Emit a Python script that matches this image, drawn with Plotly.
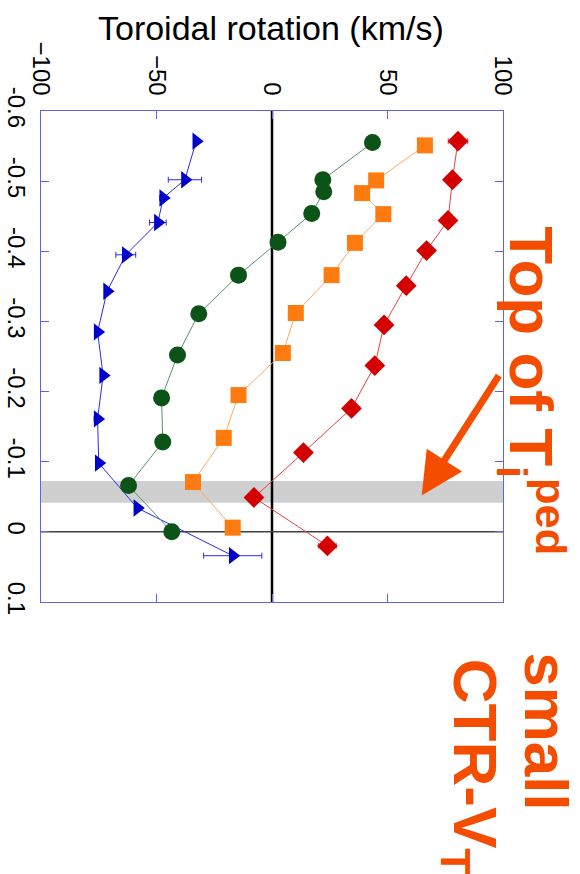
import plotly.graph_objects as go

# Position (vertical axis in the rotated view) and toroidal rotation (km/s)
pos_red = [-0.557, -0.502, -0.444, -0.401, -0.351, -0.295, -0.237, -0.176, -0.113, -0.049, 0.020]
rot_red = [80.5, 78.1, 76.2, 66.9, 58.1, 48.5, 44.5, 34.4, 13.6, -7.8, 24.0]
err_red = [4.2, 2.5, 1.5, 1.5, 1.5, 1.5, 1.5, 1.5, 1.5, 1.5, 3.8]

pos_orange = [-0.551, -0.501, -0.483, -0.453, -0.412, -0.366, -0.312, -0.255, -0.195, -0.134, -0.071, -0.006]
rot_orange = [66.2, 45.1, 39.0, 48.2, 35.9, 25.8, 10.3, 4.7, -14.5, -20.9, -34.2, -17.0]
err_orange = [0, 1.0, 0, 2.5, 0, 0, 0, 0, 0, 0, 0, 1.0]

pos_green = [-0.555, -0.502, -0.485, -0.454, -0.413, -0.366, -0.311, -0.252, -0.191, -0.128, -0.066, 0.0]
rot_green = [43.5, 22.0, 22.4, 17.2, 2.6, -14.5, -31.7, -40.9, -47.8, -47.3, -62.1, -43.4]

pos_blue = [-0.557, -0.502, -0.476, -0.441, -0.395, -0.343, -0.285, -0.223, -0.161, -0.098, -0.034, 0.034]
rot_blue = [-32.8, -37.7, -47.1, -49.4, -63.3, -71.4, -75.5, -73.1, -75.5, -75.0, -58.3, -17.0]
err_blue = [0, 7.2, 1.5, 3.6, 4.3, 0, 0, 0, 1.5, 0, 0, 12.6]

rot_ticks = [-100, -50, 0, 50, 100]
pos_ticks = [-0.6, -0.5, -0.4, -0.3, -0.2, -0.1, 0, 0.1]
pos_ticktext = ["-0.6", "-0.5", "-0.4", "-0.3", "-0.2", "-0.1", "0", "0.1"]

band_lo, band_hi = -0.0724, -0.0414

ORANGE_TXT = "#F54D00"
AXIS_BLUE = "#6060ee"
FONT = "Liberation Sans, Arial, sans-serif"

fig = go.Figure()

fig.add_trace(go.Scatter(
    x=rot_blue, y=pos_blue, mode="lines+markers",
    line=dict(color="#2a2af0", width=1),
    marker=dict(symbol="triangle-right", size=15, color="#0000cc"),
    error_x=dict(type="data", array=err_blue, color="#2a2af0", thickness=1, width=3),
    showlegend=False))
fig.add_trace(go.Scatter(
    x=rot_green, y=pos_green, mode="lines+markers",
    line=dict(color="#5a9268", width=1),
    marker=dict(symbol="circle", size=17, color="#0b5316"),
    showlegend=False))
fig.add_trace(go.Scatter(
    x=rot_orange, y=pos_orange, mode="lines+markers",
    line=dict(color="#ffa860", width=1),
    marker=dict(symbol="square", size=16, color="#ff7b10"),
    error_x=dict(type="data", array=err_orange, color="#ffa860", thickness=1, width=3),
    showlegend=False))
fig.add_trace(go.Scatter(
    x=rot_red, y=pos_red, mode="lines+markers",
    line=dict(color="#e04545", width=1),
    marker=dict(symbol="diamond", size=16, color="#d40000"),
    error_x=dict(type="data", array=err_red, color="#e04545", thickness=1, width=3),
    showlegend=False))

# grey pedestal-top band
fig.add_shape(type="rect", xref="x domain", yref="y", x0=0, x1=1, y0=band_lo, y1=band_hi,
              fillcolor="#cfcfcf", line=dict(width=0), layer="below")
# zero lines
fig.add_shape(type="line", xref="x", yref="y domain", x0=0, x1=0, y0=0, y1=1,
              line=dict(color="black", width=2.5), layer="below")
fig.add_shape(type="line", xref="x domain", yref="y", x0=0, x1=1, y0=0, y1=0,
              line=dict(color="#404040", width=1.5), layer="below")

# arrow
fig.add_annotation(x=64.8, y=-0.0518, ax=98.6, ay=-0.225, xref="x", yref="y",
                   axref="x", ayref="y", text="", showarrow=True,
                   arrowhead=2, arrowsize=1.2, arrowwidth=7, arrowcolor=ORANGE_TXT)

big = dict(family=FONT, size=62, color=ORANGE_TXT)
fig.add_annotation(xref="paper", yref="paper", x=1.06, y=0.43,
                   text="<b>Top of T<sub>i</sub><sup>ped</sup></b>", textangle=90,
                   showarrow=False, font=big, xanchor="center", yanchor="middle")
fig.add_annotation(xref="paper", yref="paper", x=1.095, y=-0.265,
                   text="<b>small</b>", textangle=90,
                   showarrow=False, font=big, xanchor="center", yanchor="middle")
fig.add_annotation(xref="paper", yref="paper", x=0.93, y=-0.335,
                   text="<b>CTR-V<sub>T</sub></b>", textangle=90,
                   showarrow=False, font=big, xanchor="center", yanchor="middle")

fig.update_xaxes(
    range=[-100, 100], side="top", tickvals=rot_ticks, tickangle=90,
    ticks="inside", ticklen=8, tickcolor=AXIS_BLUE, tickwidth=1,
    showline=True, linecolor=AXIS_BLUE, linewidth=1, mirror="allticks",
    showgrid=False, zeroline=False,
    tickfont=dict(family=FONT, size=24, color="black"), ticklabelstandoff=6,
    automargin=False)
fig.update_yaxes(
    range=[0.1, -0.6], tickvals=pos_ticks, ticktext=pos_ticktext, tickangle=90,
    ticks="inside", ticklen=8, tickcolor=AXIS_BLUE, tickwidth=1,
    showline=True, linecolor=AXIS_BLUE, linewidth=1, mirror="allticks",
    showgrid=False, zeroline=False,
    tickfont=dict(family=FONT, size=24, color="black"), ticklabelstandoff=3,
    automargin=False)

fig.update_layout(
    width=580, height=874,
    margin=dict(l=41, r=77, t=111, b=272),
    plot_bgcolor="white", paper_bgcolor="white",
    showlegend=False,
    title=dict(text="Toroidal rotation (km/s)", xref="container", yref="container",
               x=0.467, y=1 - 28 / 874, xanchor="center", yanchor="middle",
               font=dict(family=FONT, size=34, color="black")))

fig.write_html("out.html")
